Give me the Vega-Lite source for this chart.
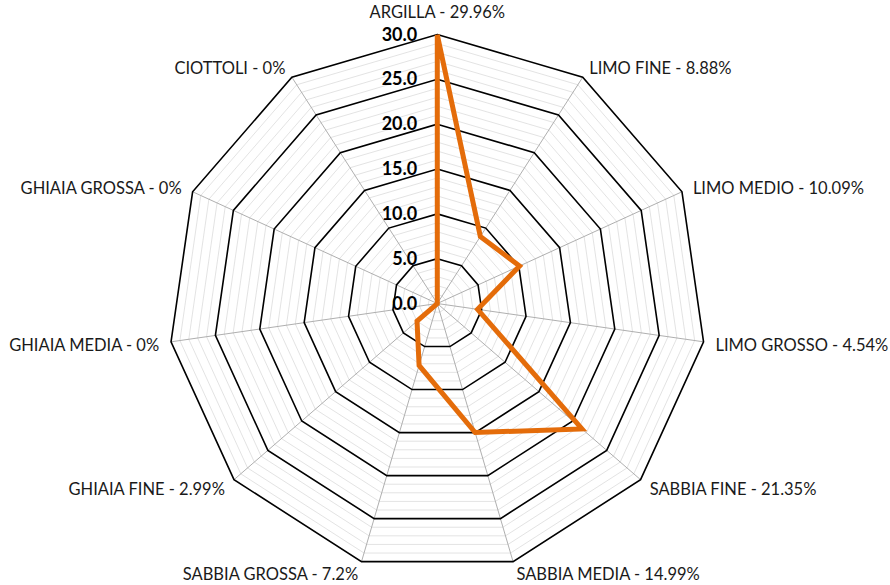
{
  "$schema": "https://vega.github.io/schema/vega-lite/v6.json",
  "width": 890,
  "height": 585,
  "padding": 0,
  "autosize": {"type": "none"},
  "background": "white",
  "config": {"view": {"stroke": null}},
  "datasets": {
    "cats": [
      {"i": 0, "cat": "ARGILLA", "v": 29.96},
      {"i": 1, "cat": "LIMO FINE", "v": 8.88},
      {"i": 2, "cat": "LIMO MEDIO", "v": 10.09},
      {"i": 3, "cat": "LIMO GROSSO", "v": 4.54},
      {"i": 4, "cat": "SABBIA FINE", "v": 21.35},
      {"i": 5, "cat": "SABBIA MEDIA", "v": 14.99},
      {"i": 6, "cat": "SABBIA GROSSA", "v": 7.2},
      {"i": 7, "cat": "GHIAIA FINE", "v": 2.99},
      {"i": 8, "cat": "GHIAIA MEDIA", "v": 0},
      {"i": 9, "cat": "GHIAIA GROSSA", "v": 0},
      {"i": 10, "cat": "CIOTTOLI", "v": 0}
    ],
    "ticks": [
      {"lv": 0}, {"lv": 5}, {"lv": 10}, {"lv": 15}, {"lv": 20}, {"lv": 25}, {"lv": 30}
    ]
  },
  "encoding": {
    "x": {"field": "x", "type": "quantitative", "scale": {"domain": [-48.77, 50.49], "nice": false, "zero": false}, "axis": null},
    "y": {"field": "y", "type": "quantitative", "scale": {"domain": [-31.39, 33.85], "nice": false, "zero": false}, "axis": null}
  },
  "layer": [
    {
      "data": {"name": "cats"},
      "transform": [
        {"calculate": "sequence(1, 31)", "as": "lv"},
        {"flatten": ["lv"]},
        {"filter": "datum.lv % 5 != 0"},
        {"calculate": "datum.i * 2 * PI / 11", "as": "a"},
        {"calculate": "datum.lv * sin(datum.a)", "as": "x"},
        {"calculate": "datum.lv * cos(datum.a)", "as": "y"}
      ],
      "mark": {"type": "line", "interpolate": "linear-closed", "stroke": "#d9d9d9", "strokeWidth": 0.75},
      "encoding": {"detail": {"field": "lv", "type": "nominal"}, "order": {"field": "i", "type": "quantitative"}}
    },
    {
      "data": {"name": "cats"},
      "transform": [
        {"calculate": "datum.i * 2 * PI / 11", "as": "a"},
        {"calculate": "0", "as": "x"},
        {"calculate": "0", "as": "y"},
        {"calculate": "30 * sin(datum.a)", "as": "x2"},
        {"calculate": "30 * cos(datum.a)", "as": "y2"}
      ],
      "mark": {"type": "rule", "stroke": "#a6a6a6", "strokeWidth": 0.9},
      "encoding": {"x2": {"field": "x2"}, "y2": {"field": "y2"}}
    },
    {
      "data": {"name": "cats"},
      "transform": [
        {"calculate": "sequence(5, 31, 5)", "as": "lv"},
        {"flatten": ["lv"]},
        {"calculate": "datum.i * 2 * PI / 11", "as": "a"},
        {"calculate": "datum.lv * sin(datum.a)", "as": "x"},
        {"calculate": "datum.lv * cos(datum.a)", "as": "y"}
      ],
      "mark": {"type": "line", "interpolate": "linear-closed", "stroke": "#000000", "strokeWidth": 1.6},
      "encoding": {"detail": {"field": "lv", "type": "nominal"}, "order": {"field": "i", "type": "quantitative"}}
    },
    {
      "data": {"name": "ticks"},
      "transform": [
        {"calculate": "0", "as": "x"},
        {"calculate": "datum.lv", "as": "y"}
      ],
      "mark": {"type": "text", "align": "right", "baseline": "middle", "dx": -20, "dy": 1, "font": "Lato", "fontWeight": "bold", "fontSize": 18, "color": "#000000"},
      "encoding": {"text": {"field": "lv", "type": "quantitative", "format": ".1f"}}
    },
    {
      "data": {"name": "cats"},
      "transform": [
        {"calculate": "datum.i * 2 * PI / 11", "as": "a"},
        {"calculate": "datum.v * sin(datum.a)", "as": "x"},
        {"calculate": "datum.v * cos(datum.a)", "as": "y"}
      ],
      "mark": {"type": "line", "interpolate": "linear-closed", "stroke": "#E46C0A", "strokeWidth": 5},
      "encoding": {"order": {"field": "i", "type": "quantitative"}}
    },
    {
      "data": {"name": "cats"},
      "transform": [
        {"filter": "datum.i == 0"},
        {"calculate": "datum.cat + ' - ' + datum.v + '%'", "as": "label"},
        {"calculate": "0", "as": "x"},
        {"calculate": "30", "as": "y"}
      ],
      "mark": {"type": "text", "align": "center", "baseline": "middle", "dy": -22, "font": "Lato", "fontSize": 16.5, "color": "#1a1a1a"},
      "encoding": {"text": {"field": "label"}}
    },
    {
      "data": {"name": "cats"},
      "transform": [
        {"filter": "datum.i >= 1 && datum.i <= 5"},
        {"calculate": "datum.cat + ' - ' + datum.v + '%'", "as": "label"},
        {"calculate": "datum.i * 2 * PI / 11", "as": "a"},
        {"calculate": "31.34 * sin(datum.a)", "as": "x"},
        {"calculate": "31.34 * cos(datum.a)", "as": "y"}
      ],
      "mark": {"type": "text", "align": "left", "baseline": "middle", "dy": 2, "font": "Lato", "fontSize": 16.5, "color": "#1a1a1a"},
      "encoding": {"text": {"field": "label"}}
    },
    {
      "data": {"name": "cats"},
      "transform": [
        {"filter": "datum.i >= 6"},
        {"calculate": "datum.cat + ' - ' + datum.v + '%'", "as": "label"},
        {"calculate": "datum.i * 2 * PI / 11", "as": "a"},
        {"calculate": "31.34 * sin(datum.a)", "as": "x"},
        {"calculate": "31.34 * cos(datum.a)", "as": "y"}
      ],
      "mark": {"type": "text", "align": "right", "baseline": "middle", "dy": 2, "font": "Lato", "fontSize": 16.5, "color": "#1a1a1a"},
      "encoding": {"text": {"field": "label"}}
    }
  ]
}
